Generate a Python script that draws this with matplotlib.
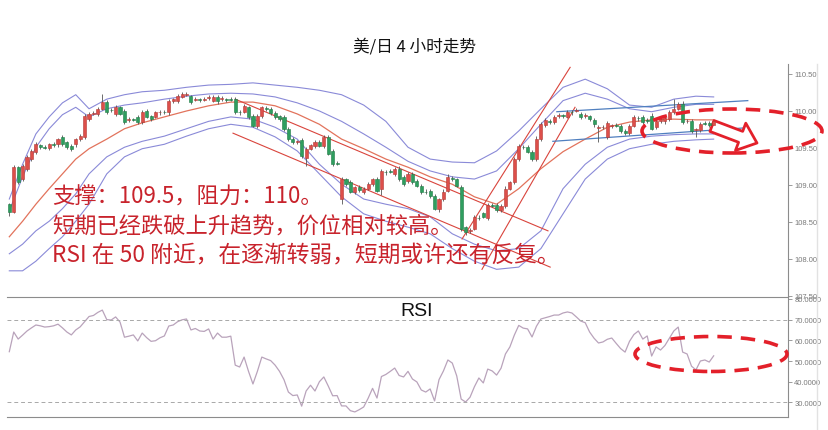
import matplotlib
matplotlib.use("Agg")
import matplotlib.pyplot as plt
import numpy as np
from matplotlib.patches import Ellipse
from matplotlib.lines import Line2D

# 4-hour USD/JPY candles
opens = [
    108.74, 108.64, 109.24, 109.08, 109.22, 109.35, 109.45, 109.54, 109.51, 109.50,
    109.55, 109.55, 109.65, 109.58, 109.53, 109.55, 109.62, 109.65, 109.89, 109.96,
    109.96, 110.03, 110.12, 110.02, 109.96, 110.05, 110.00, 109.88, 109.89, 109.92,
    109.85, 110.00, 109.93, 109.92, 109.98, 109.99, 109.98, 110.13, 110.14, 110.19,
    110.22, 110.20, 110.15, 110.16, 110.15, 110.18, 110.14, 110.19, 110.16, 110.16,
    110.16, 110.16, 109.99, 109.99, 110.05, 109.93, 109.80, 109.93, 110.04, 110.03,
    109.97, 109.93, 109.92, 109.76, 109.62, 109.58, 109.61, 109.36, 109.49, 109.53,
    109.58, 109.53, 109.65, 109.46, 109.30, 108.81, 109.08, 109.04, 108.91, 108.97,
    108.91, 108.95, 109.01, 109.08, 108.95, 109.18, 109.19, 109.15, 109.22, 109.11,
    109.05, 109.15, 109.05, 108.99, 108.91, 108.92, 108.85, 108.68, 108.81, 108.92,
    109.09, 109.08, 108.97, 108.43, 108.38, 108.41, 108.56, 108.62, 108.55, 108.73,
    108.73, 108.66, 108.72, 108.95, 109.04, 109.35, 109.52, 109.51, 109.45, 109.35,
    109.62, 109.81, 109.86, 109.85, 109.93, 109.94, 109.92, 109.99, 110.00, 109.96,
    109.93, 109.93, 109.88, 109.77, 109.78, 109.65, 109.80, 109.81, 109.80, 109.73,
    109.70, 109.80, 109.91, 109.92, 109.88, 109.93, 109.78, 109.86, 109.86, 109.89,
    109.99, 110.03, 110.09, 109.86, 109.86, 109.74, 109.74, 109.84, 109.84, 109.81,
]
closes = [
    108.64, 109.24, 109.04, 109.26, 109.38, 109.46, 109.55, 109.51, 109.50, 109.55,
    109.54, 109.62, 109.55, 109.51, 109.48, 109.62, 109.66, 109.93, 109.96, 109.97,
    110.03, 110.12, 109.99, 110.01, 110.05, 109.96, 109.85, 109.89, 109.88, 109.85,
    109.99, 109.92, 109.89, 109.98, 109.99, 109.98, 110.13, 110.16, 110.20, 110.23,
    110.23, 110.12, 110.16, 110.15, 110.16, 110.19, 110.19, 110.13, 110.17, 110.15,
    110.15, 109.99, 109.98, 110.07, 109.92, 109.80, 109.93, 110.05, 110.03, 109.97,
    109.92, 109.89, 109.76, 109.62, 109.58, 109.59, 109.39, 109.49, 109.54, 109.58,
    109.53, 109.65, 109.42, 109.28, 109.29, 109.08, 109.01, 108.91, 108.97, 108.93,
    108.95, 109.01, 109.08, 108.92, 109.19, 109.17, 109.18, 109.22, 109.08, 109.01,
    109.15, 109.04, 108.99, 108.91, 108.90, 108.85, 108.68, 108.81, 108.91, 109.11,
    109.08, 108.99, 108.41, 108.36, 108.39, 108.57, 108.55, 108.57, 108.73, 108.72,
    108.66, 108.72, 108.95, 109.04, 109.35, 109.53, 109.51, 109.45, 109.35, 109.62,
    109.82, 109.88, 109.85, 109.92, 109.94, 109.93, 109.99, 109.98, 110.01, 109.92,
    109.94, 109.89, 109.82, 109.78, 109.79, 109.84, 109.81, 109.80, 109.73, 109.70,
    109.80, 109.92, 109.90, 109.85, 109.87, 109.76, 109.86, 109.89, 109.91, 109.99,
    110.03, 110.09, 109.85, 109.87, 109.73, 109.75, 109.82, 109.83, 109.81, 109.86,
]
# wick lengths in pips above / below the body
up_wick = [
    2, 3, 2, 3, 2, 2, 3, 2, 3, 2, 3, 2, 3, 2, 3, 2, 3, 3, 2, 3,
    2, 11, 3, 2, 3, 2, 3, 3, 2, 3, 2, 3, 2, 2, 3, 2, 3, 2, 3, 2,
    3, 2, 3, 2, 3, 2, 3, 2, 3, 2, 3, 3, 2, 3, 2, 3, 3, 2, 3, 2,
    3, 2, 3, 2, 3, 2, 2, 3, 2, 3, 3, 2, 3, 2, 3, 3, 2, 3, 2, 3,
    2, 3, 2, 3, 3, 2, 3, 2, 3, 2, 3, 2, 3, 2, 3, 2, 3, 2, 3, 4,
    3, 2, 3, 2, 3, 2, 3, 2, 3, 2, 3, 2, 3, 2, 3, 3, 2, 3, 2, 4,
    3, 2, 3, 2, 3, 2, 3, 2, 3, 2, 3, 2, 3, 3, 2, 3, 2, 3, 2, 3,
    2, 3, 2, 3, 2, 4, 3, 2, 3, 2, 13, 3, 5, 2, 3, 2, 3, 2, 3, 2,
]
down_wick = [
    6, 2, 3, 2, 3, 2, 3, 3, 2, 3, 2, 3, 2, 3, 2, 3, 2, 3, 3, 2,
    3, 2, 3, 2, 3, 2, 3, 3, 2, 3, 3, 2, 3, 2, 3, 2, 3, 2, 3, 2,
    2, 3, 2, 3, 2, 3, 2, 3, 2, 3, 2, 3, 3, 2, 3, 2, 3, 2, 3, 2,
    3, 2, 3, 2, 3, 2, 3, 10, 2, 3, 2, 3, 2, 3, 2, 7, 3, 2, 3, 2,
    3, 2, 3, 2, 8, 3, 2, 3, 2, 3, 2, 3, 2, 3, 2, 3, 2, 5, 3, 2,
    3, 2, 3, 4, 3, 2, 3, 2, 3, 2, 3, 2, 3, 2, 3, 2, 3, 2, 3, 2,
    2, 3, 2, 3, 2, 3, 2, 3, 2, 3, 2, 3, 3, 19, 2, 3, 3, 2, 3, 2,
    3, 2, 3, 2, 3, 2, 3, 2, 3, 2, 3, 2, 3, 2, 3, 9, 3, 2, 3, 2,
]

rsi = [
    54.5, 64.0, 60.6, 62.5, 64.5, 66.0, 67.4, 67.0, 66.4, 66.6,
    67.0, 67.8, 66.0, 64.0, 62.6, 65.0, 66.5, 69.0, 71.5, 72.0,
    73.5, 74.6, 70.0, 69.8, 71.3, 68.8, 61.5, 62.0, 62.6, 59.7,
    63.5, 61.3, 59.5, 59.8, 61.2, 62.1, 66.9, 67.4, 69.0, 69.9,
    70.3, 65.0, 65.7, 64.5, 64.3, 65.5, 60.6, 63.5, 61.5, 61.5,
    62.0, 48.0, 47.1, 51.9, 45.0, 38.9, 45.0, 51.9, 51.0, 50.2,
    48.0, 45.0, 41.0, 35.0, 33.3, 33.6, 28.2, 35.5, 38.3, 35.5,
    40.0, 42.3, 37.9, 33.2, 33.3, 28.3, 28.3, 26.0, 25.4, 26.5,
    27.8, 32.0, 36.8, 32.1, 42.5, 43.5, 45.0, 46.6, 43.0, 42.3,
    45.0, 41.3, 39.9, 36.0, 35.0, 36.5, 30.7, 41.0, 45.2, 50.5,
    49.0, 42.8, 31.6, 30.2, 32.5, 37.6, 41.8, 39.4, 46.1, 45.2,
    43.2, 46.5, 53.4, 56.8, 62.5, 67.2, 65.9, 65.5, 61.6, 66.8,
    70.3, 70.9, 71.5, 72.2, 72.2, 73.2, 73.7, 73.2, 71.3, 69.3,
    68.5, 64.0, 61.0, 58.7, 59.2, 60.5, 61.1, 58.5, 56.0, 54.3,
    59.5, 62.8, 64.5, 60.6, 62.1, 52.4, 56.8, 55.3, 57.5, 61.0,
    64.5, 66.4, 54.3, 53.4, 47.5, 45.7, 50.0, 50.5, 49.5, 52.5,
]

# band / average lines, sampled at these candle numbers
band_idx = [0, 3, 6, 9, 12, 15, 18, 22, 26, 30, 35, 40, 45, 50, 55, 60, 65, 70,
            75, 80, 85, 90, 95, 100, 105, 110, 115, 120, 125, 130, 135, 140, 145,
            150, 155, 159]
band_up_outer = [108.81, 109.28, 109.69, 109.92, 110.11, 110.22, 110.03, 110.16, 110.22,
                 110.26, 110.28, 110.32, 110.35, 110.36, 110.38, 110.35, 110.32, 110.28,
                 110.22, 110.08, 109.86, 109.51, 109.35, 109.31, 109.30, 109.46, 109.73,
                 110.03, 110.32, 110.43, 110.30, 110.08, 110.05, 110.16, 110.20, 110.19]
band_up_inner = [108.65, 109.11, 109.51, 109.76, 109.95, 110.05, 109.92, 110.03, 110.08,
                 110.11, 110.16, 110.20, 110.23, 110.24, 110.23, 110.19, 110.11, 110.00,
                 109.86, 109.69, 109.51, 109.32, 109.19, 109.11, 109.08, 109.19, 109.49,
                 109.82, 110.14, 110.24, 110.16, 110.03, 109.99, 110.05, 110.09, 110.09]
ma_mid = [108.30, 108.51, 108.74, 108.95, 109.15, 109.35, 109.49, 109.62, 109.76,
          109.84, 109.92, 110.00, 110.07, 110.12, 110.12, 110.07, 109.96, 109.82,
          109.62, 109.49, 109.35, 109.24, 109.11, 109.01, 108.84, 108.74, 108.95,
          109.22, 109.45, 109.62, 109.78, 109.85, 109.88, 109.89, 109.88, 109.88]
band_lo_inner = [108.07, 108.20, 108.38, 108.51, 108.68, 108.88, 109.15, 109.38, 109.51,
                 109.59, 109.66, 109.76, 109.86, 109.92, 109.89, 109.78, 109.62, 109.28,
                 109.01, 108.81, 108.74, 108.68, 108.57, 108.34, 108.20, 108.11, 108.14,
                 108.38, 108.95, 109.28, 109.51, 109.62, 109.66, 109.68, 109.69, 109.69]
band_lo_outer = [107.84, 107.84, 107.97, 108.14, 108.30, 108.51, 108.74, 109.15, 109.38,
                 109.49, 109.55, 109.66, 109.76, 109.82, 109.78, 109.65, 109.46, 109.15,
                 108.84, 108.61, 108.51, 108.43, 108.34, 108.14, 107.97, 107.86, 107.89,
                 108.14, 108.61, 109.08, 109.35, 109.49, 109.55, 109.59, 109.61, 109.62]

# hand-drawn trend lines: (candle number, price) end points
red_trend_lines = [
    [(51.0, 110.16), (121.6, 108.38)],
    [(50.5, 109.70), (122.1, 107.89)],
    [(102.2, 108.27), (126.6, 110.59)],
    [(106.7, 107.86), (127.7, 110.05)],
]
blue_trend_lines = [
    [(123.6, 109.99), (166.7, 110.14)],
    [(122.7, 109.59), (165.6, 109.77)],
]

price_ticks = [107.5, 108.0, 108.5, 109.0, 109.5, 110.0, 110.5]
rsi_ticks = [30, 40, 50, 60, 70, 80]

title_text = "美/日 4 小时走势"
note_lines = ["支撑：109.5，阻力：110。",
              "短期已经跌破上升趋势，价位相对较高。",
              "RSI 在 50 附近，在逐渐转弱，短期或许还有反复。"]

plt.rcParams['font.family'] = ['Noto Sans CJK SC', 'DejaVu Sans']

W, H = 829, 431
fig = plt.figure(figsize=(W / 100, H / 100), dpi=100)

left, right = 7 / W, 788 / W
ax = fig.add_axes([left, 1 - 298 / H, right - left, (298 - 65) / H])
ax2 = fig.add_axes([left, 1 - 418 / H, right - left, (418 - 298) / H])

x = np.arange(len(closes))
o = np.array(opens)
c = np.array(closes)
hi = np.maximum(o, c) + np.array(up_wick) / 100
lo = np.minimum(o, c) - np.array(down_wick) / 100
rising = c >= o

ax.vlines(x, lo, hi, color='#555555', lw=0.6, zorder=3)
body_h = np.maximum(np.abs(c - o), 0.008)
ax.bar(x[rising], body_h[rising], bottom=np.minimum(o, c)[rising], width=0.7,
       color='#dd4f4a', edgecolor='#b33a35', lw=0.4, zorder=4)
ax.bar(x[~rising], body_h[~rising], bottom=np.minimum(o, c)[~rising], width=0.7,
       color='#2f9e5f', edgecolor='#1f7a45', lw=0.4, zorder=4)

band_color = '#8a8ad8'
for line in [band_up_outer, band_up_inner, band_lo_inner, band_lo_outer]:
    ax.plot(band_idx, line, color=band_color, lw=0.8, zorder=2)
ax.plot(band_idx, ma_mid, color='#e2735c', lw=0.9, zorder=2)

for (x0, y0), (x1, y1) in red_trend_lines:
    ax.plot([x0, x1], [y0, y1], color='#d9443c', lw=0.8, zorder=2)
for (x0, y0), (x1, y1) in blue_trend_lines:
    ax.plot([x0, x1], [y0, y1], color='#4f7fbf', lw=0.9, zorder=2)

xlim = ((7 - 9.3) / 4.43, (788 - 9.3) / 4.43)
ax.set_xlim(*xlim)
ax.set_ylim(107.486, 110.635)
ax.set_xticks([])
ax.yaxis.tick_right()
ax.set_yticks(price_ticks)
ax.set_yticklabels([f"{v:.2f}" for v in price_ticks])
for s in ['left', 'top', 'bottom']:
    ax.spines[s].set_visible(False)

ax2.plot(x, rsi, color='#b9a3bb', lw=0.9)
for lvl in [70, 30]:
    ax2.axhline(lvl, color='#a8a8a8', lw=0.7, ls=(0, (4, 3)))
ax2.set_xlim(*xlim)
ax2.set_ylim(22.95, 80.92)
ax2.set_xticks([])
ax2.yaxis.tick_right()
ax2.set_yticks(rsi_ticks)
ax2.set_yticklabels([f"{v:.4f}" for v in rsi_ticks])
ax2.spines['left'].set_visible(False)
ax2.text(0.525, 0.89, "RSI", transform=ax2.transAxes, ha='center', va='center',
         fontsize=14, family=['Liberation Sans', 'DejaVu Sans'], color='#111111')

for a in (ax, ax2):
    for s in ['right', 'top', 'bottom']:
        a.spines[s].set_color('#8c8c8c')
        a.spines[s].set_linewidth(0.8)
    a.tick_params(axis='y', direction='out', length=3, width=0.6, color='#8c8c8c',
                  labelsize=5.5, labelcolor='#7a7a7a', pad=1.5)
    for lab in a.get_yticklabels():
        lab.set_family(['Liberation Sans', 'DejaVu Sans'])

fig.text(415 / W, 1 - 47 / H, title_text, ha='center', va='center', fontsize=12,
         color='#111111')

note_y = [197, 226, 255]
note_size = [16, 16, 16.4]
for txt, yy, fs in zip(note_lines, note_y, note_size):
    fig.text(52 / W, 1 - yy / H, txt, ha='left', va='center', fontsize=fs,
             color='#c8232c')

# red dashed circles and hollow arrow
ell_kw = dict(transform=fig.transFigure, fill=False, edgecolor='#e3202a', lw=2.6,
              ls=(0, (4, 2.5)), zorder=10)
fig.add_artist(Ellipse((732 / W, 1 - 132 / H), 180 / W, 44 / H, **ell_kw))
fig.add_artist(Ellipse((711 / W, 1 - 355 / H), 152 / W, 35 / H, **ell_kw))
fig.add_artist(Line2D([817 / W, 817 / W], [0, 1 - 65 / H], transform=fig.transFigure,
                      color='#e2e2e2', lw=1))
ax.annotate('', xy=(757, H - 144), xytext=(712, H - 127), xycoords='figure pixels',
            textcoords='figure pixels',
            arrowprops=dict(arrowstyle='simple,head_length=0.9,head_width=1.5,tail_width=0.6',
                            mutation_scale=14, fc='white', ec='#e3202a', lw=2,
                            shrinkA=0, shrinkB=0))

fig.savefig('out.png', dpi=100)
